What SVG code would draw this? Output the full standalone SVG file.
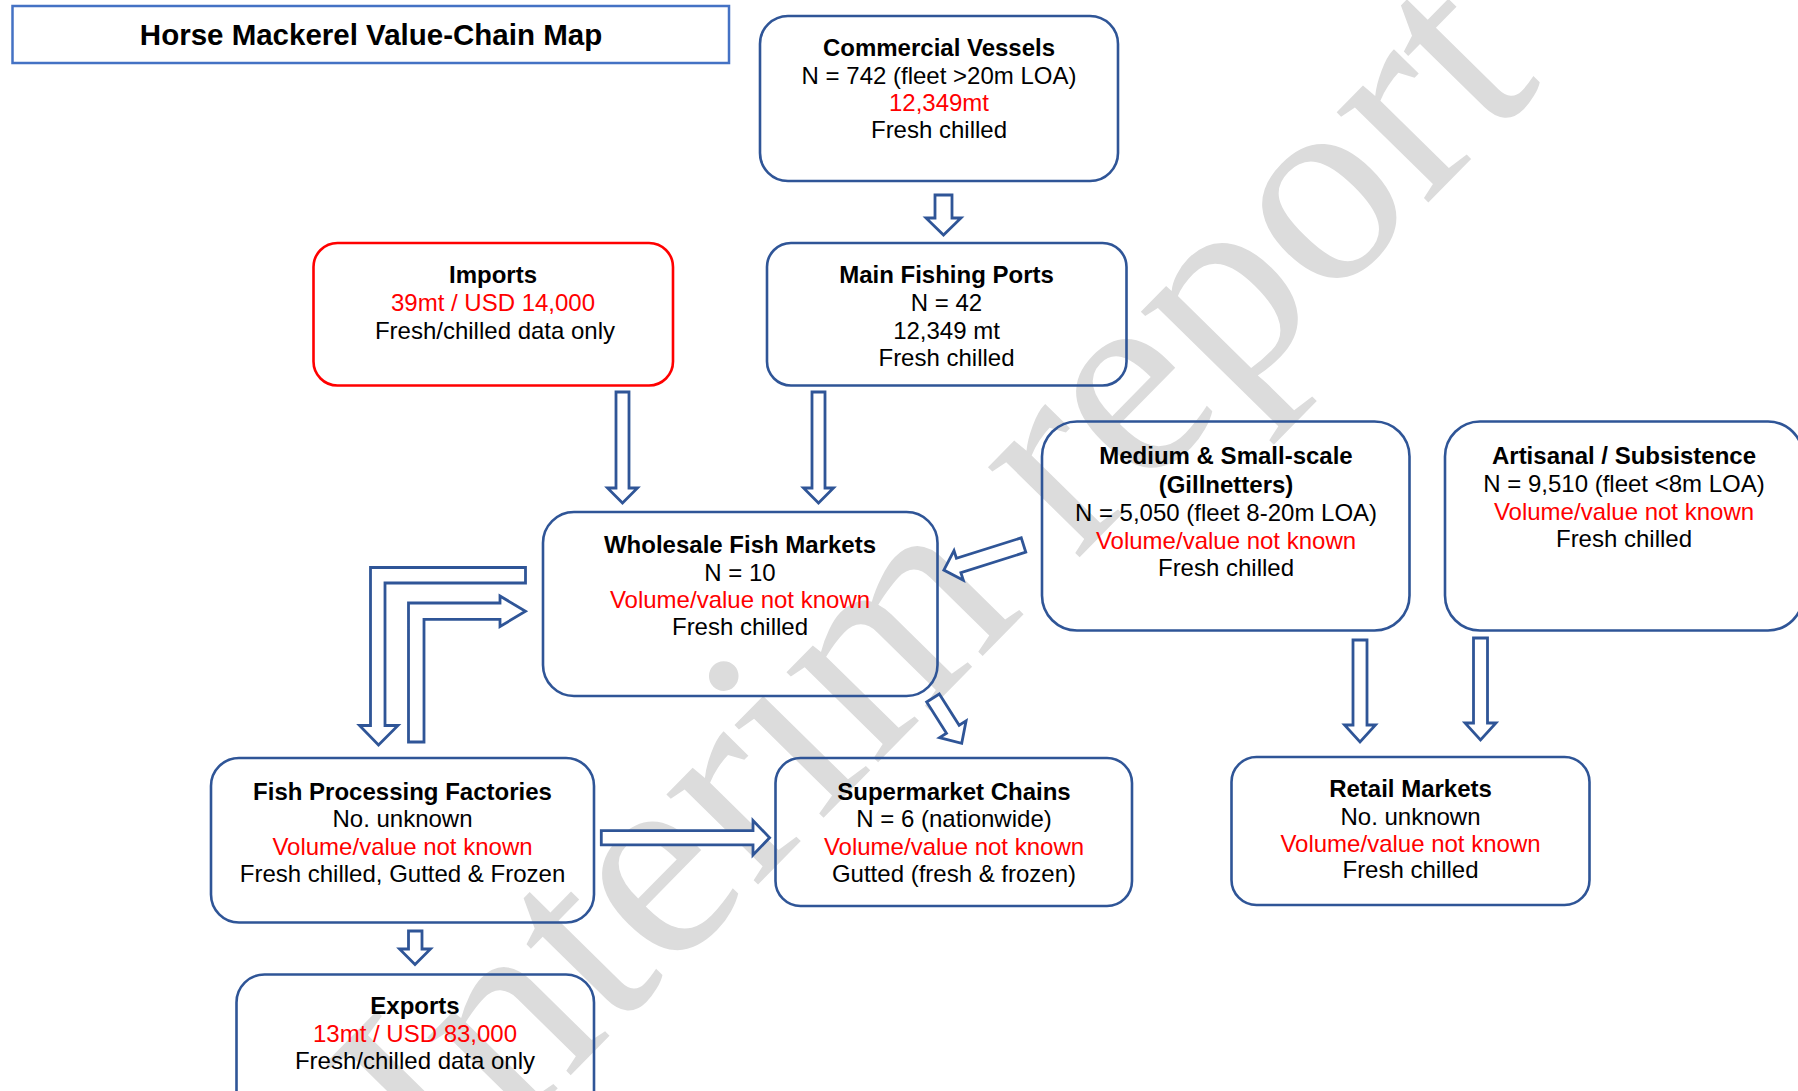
<svg xmlns="http://www.w3.org/2000/svg" width="1798" height="1091" viewBox="0 0 1798 1091">
<style>
  .box { fill: none; stroke: #2F5597; stroke-width: 2.6; }
  .red { stroke: #FF0000; }
  .arr { fill: #FFFFFF; stroke: #2F5597; stroke-width: 2.8; stroke-linejoin: miter; }
  text { font-family: "Liberation Sans", Arial, sans-serif; font-size: 24px; fill: #000000; text-anchor: middle; }
  .b { font-weight: bold; }
  .r { fill: #FF0000; }
  .wm { font-family: "Liberation Serif", "Times New Roman", serif; font-size: 280px; fill: #DCDCDC; text-anchor: start; }
</style>
<rect width="1798" height="1091" fill="#FFFFFF"/>

<text class="wm" transform="translate(449,1199) rotate(-45.5)">Interim report</text>

<g id="title">
  <rect x="12.5" y="6" width="716.5" height="57" fill="none" stroke="#4472C4" stroke-width="2.5"/>
  <text class="b" x="371" y="45" style="font-size:29.5px">Horse Mackerel Value-Chain Map</text>
</g>

<g id="commercial-vessels">
  <rect class="box" x="760" y="16" width="358" height="165" rx="28"/>
  <text x="939" class="b" y="56">Commercial Vessels</text>
  <text x="939" y="84">N = 742 (fleet &gt;20m LOA)</text>
  <text x="939" class="r" y="111">12,349mt</text>
  <text x="939" y="138">Fresh chilled</text>
</g>

<g id="imports">
  <rect class="box red" x="313.5" y="243" width="359.5" height="142.5" rx="24"/>
  <text x="493" class="b" y="283">Imports</text>
  <text x="493" class="r" y="311">39mt / USD 14,000</text>
  <text x="495" y="339">Fresh/chilled data only</text>
</g>

<g id="main-fishing-ports">
  <rect class="box" x="767" y="243" width="359.5" height="142.5" rx="24"/>
  <text x="946.5" class="b" y="283">Main Fishing Ports</text>
  <text x="946.5" y="311">N = 42</text>
  <text x="946.5" y="339">12,349 mt</text>
  <text x="946.5" y="366">Fresh chilled</text>
</g>

<g id="medium-small-scale">
  <rect class="box" x="1042" y="421.5" width="367.5" height="209" rx="35"/>
  <text x="1226" class="b" y="464">Medium &amp; Small-scale</text>
  <text x="1226" class="b" y="493">(Gillnetters)</text>
  <text x="1226" y="521">N = 5,050 (fleet 8-20m LOA)</text>
  <text x="1226" class="r" y="549">Volume/value not known</text>
  <text x="1226" y="576">Fresh chilled</text>
</g>

<g id="artisanal-subsistence">
  <rect class="box" x="1445" y="421.5" width="358" height="209" rx="35"/>
  <text x="1624" class="b" y="464">Artisanal / Subsistence</text>
  <text x="1624" y="492">N = 9,510 (fleet &lt;8m LOA)</text>
  <text x="1624" class="r" y="520">Volume/value not known</text>
  <text x="1624" y="547">Fresh chilled</text>
</g>

<g id="wholesale-fish-markets">
  <rect class="box" x="543" y="512" width="394.5" height="184" rx="31"/>
  <text x="740" class="b" y="553">Wholesale Fish Markets</text>
  <text x="740" y="581">N = 10</text>
  <text x="740" class="r" y="608">Volume/value not known</text>
  <text x="740" y="635">Fresh chilled</text>
</g>

<g id="fish-processing-factories">
  <rect class="box" x="211" y="758" width="383" height="164.5" rx="28"/>
  <text x="402.5" class="b" y="800">Fish Processing Factories</text>
  <text x="402.5" y="827">No. unknown</text>
  <text x="402.5" class="r" y="855">Volume/value not known</text>
  <text x="402.5" y="882">Fresh chilled, Gutted &amp; Frozen</text>
</g>

<g id="supermarket-chains">
  <rect class="box" x="775.5" y="758" width="356.5" height="148" rx="25"/>
  <text x="954" class="b" y="800">Supermarket Chains</text>
  <text x="954" y="827">N = 6 (nationwide)</text>
  <text x="954" class="r" y="855">Volume/value not known</text>
  <text x="954" y="882">Gutted (fresh &amp; frozen)</text>
</g>

<g id="retail-markets">
  <rect class="box" x="1231.5" y="757" width="358" height="148" rx="25"/>
  <text x="1410.5" class="b" y="797">Retail Markets</text>
  <text x="1410.5" y="825">No. unknown</text>
  <text x="1410.5" class="r" y="852">Volume/value not known</text>
  <text x="1410.5" y="878">Fresh chilled</text>
</g>

<g id="exports">
  <rect class="box" x="236.5" y="974.5" width="357.5" height="160" rx="28"/>
  <text x="415" class="b" y="1014">Exports</text>
  <text x="415" class="r" y="1042">13mt / USD 83,000</text>
  <text x="415" y="1069">Fresh/chilled data only</text>
</g>

<g id="connectors">
  <!-- Commercial Vessels -> Main Fishing Ports -->
  <polygon class="arr" points="935,195 952,195 952,218 961,218 943.5,235 926,218 935,218"/>
  <!-- Imports -> Wholesale -->
  <polygon class="arr" points="616,392 629,392 629,488 637.5,488 622.5,503 607.5,488 616,488"/>
  <!-- Main Fishing Ports -> Wholesale -->
  <polygon class="arr" points="812,392 825,392 825,488 833.5,488 818.5,503 803.5,488 812,488"/>
  <!-- Medium & Small-scale -> Wholesale (diagonal) -->
  <polygon class="arr" transform="translate(1023.5,545) rotate(162.5)" points="0,-7.5 68,-7.5 68,-15.5 83.5,0 68,15.5 68,7.5 0,7.5"/>
  <!-- Medium & Small-scale -> Retail -->
  <polygon class="arr" points="1353,640 1367,640 1367,725 1375.5,725 1360,742 1344.5,725 1353,725"/>
  <!-- Artisanal -> Retail -->
  <polygon class="arr" points="1473.5,638 1487.5,638 1487.5,723 1496,723 1480.5,740 1465,723 1473.5,723"/>
  <!-- Wholesale -> Processing (bent) -->
  <polygon class="arr" points="525.5,567.5 370.5,567.5 370.5,725.5 359.5,725.5 378.5,745 398,725.5 385,725.5 385,583 525.5,583"/>
  <!-- Processing -> Wholesale (bent) -->
  <polygon class="arr" points="408.5,742 408.5,603 500,603 500,596 525.5,611.3 500,626.5 500,619.4 424,619.4 424,742"/>
  <!-- Wholesale -> Supermarket (diagonal) -->
  <polygon class="arr" transform="translate(933,698) rotate(57.6)" points="0,-7.5 37,-7.5 37,-15.7 53.6,0 37,15.7 37,7.5 0,7.5"/>
  <!-- Processing -> Supermarket -->
  <polygon class="arr" points="601.3,830.6 753,830.6 753,820.5 769.6,837.7 753,855 753,844.8 601.3,844.8"/>
  <!-- Processing -> Exports -->
  <polygon class="arr" points="408.5,931 422,931 422,949 430.5,949 415,964.5 399.5,949 408.5,949"/>
</g>
</svg>
